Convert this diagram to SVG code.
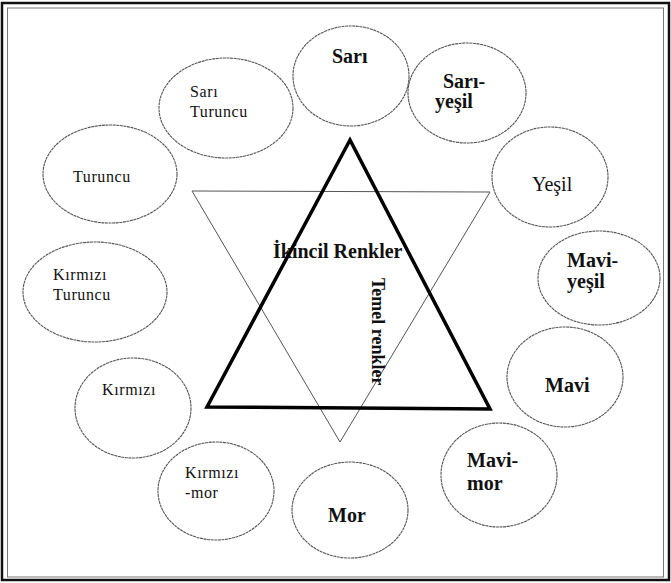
<svg xmlns="http://www.w3.org/2000/svg" width="671" height="583" viewBox="0 0 671 583">
<style>
.el{fill:none;stroke:#555;stroke-width:1.1;stroke-dasharray:3 0.6}
.t{font-family:"Liberation Serif","Times New Roman",serif;fill:#111}
.r{font-size:16px;letter-spacing:0.6px}
.b{font-size:20px;font-weight:bold}
.m{font-size:20px}
</style>
<rect width="671" height="583" fill="#fff"/>
<g id="frame" fill="none">
<rect x="2" y="3" width="667" height="577" stroke="#111" stroke-width="2.5"/>
<rect x="7.5" y="8" width="656" height="569" stroke="#777" stroke-width="1"/>
</g>
<g id="connectors">
<polygon id="ikincil-tri" points="192,191 490,192 340,442" fill="none" stroke="#555" stroke-width="1"/>
</g>
<g id="ikincil-label"><text class="t" x="273" y="258" font-size="20" font-weight="bold">İkincil Renkler</text></g>
<g id="temel-label"><text class="t" transform="translate(372,278) rotate(90)" font-size="18" font-weight="bold">Temel renkler</text></g>
<g id="temel-tri"><polygon points="350,140 207,407 490,409" fill="none" stroke="#000" stroke-width="3.5" stroke-linejoin="miter"/></g>
<g id="sari"><ellipse class="el" cx="351" cy="76" rx="58" ry="50"/><text class="t b" x="332" y="63">Sarı</text></g>
<g id="sari-yesil"><ellipse class="el" cx="467" cy="93" rx="59" ry="50"/><text class="t b" x="443" y="88">Sarı-</text><text class="t b" x="435" y="108">yeşil</text></g>
<g id="yesil"><ellipse class="el" cx="550" cy="177" rx="58" ry="50"/><text class="t m" x="532" y="191">Yeşil</text></g>
<g id="mavi-yesil"><ellipse class="el" cx="599" cy="278" rx="61" ry="47"/><text class="t b" x="567" y="267">Mavi-</text><text class="t b" x="567" y="288">yeşil</text></g>
<g id="mavi"><ellipse class="el" cx="565" cy="377" rx="58" ry="50"/><text class="t b" x="545" y="392">Mavi</text></g>
<g id="mavi-mor"><ellipse class="el" cx="499" cy="475" rx="58" ry="52"/><text class="t b" x="467" y="467">Mavi-</text><text class="t b" x="467" y="490">mor</text></g>
<g id="mor"><ellipse class="el" cx="350" cy="510" rx="58" ry="48"/><text class="t b" x="328" y="522">Mor</text></g>
<g id="kirmizi-mor"><ellipse class="el" cx="216" cy="491" rx="58" ry="49"/><text class="t r" x="185" y="478">Kırmızı</text><text class="t r" x="185" y="498">-mor</text></g>
<g id="kirmizi"><ellipse class="el" cx="133" cy="408" rx="58" ry="50"/><text class="t r" x="102" y="395">Kırmızı</text></g>
<g id="kirmizi-turuncu"><ellipse class="el" cx="95" cy="292" rx="72" ry="50"/><text class="t r" x="53" y="280">Kırmızı</text><text class="t r" x="53" y="300">Turuncu</text></g>
<g id="turuncu"><ellipse class="el" cx="110" cy="174" rx="67" ry="49"/><text class="t r" x="73" y="182">Turuncu</text></g>
<g id="sari-turuncu"><ellipse class="el" cx="226" cy="108" rx="67" ry="50"/><text class="t r" x="190" y="97">Sarı</text><text class="t r" x="190" y="117">Turuncu</text></g>
</svg>
